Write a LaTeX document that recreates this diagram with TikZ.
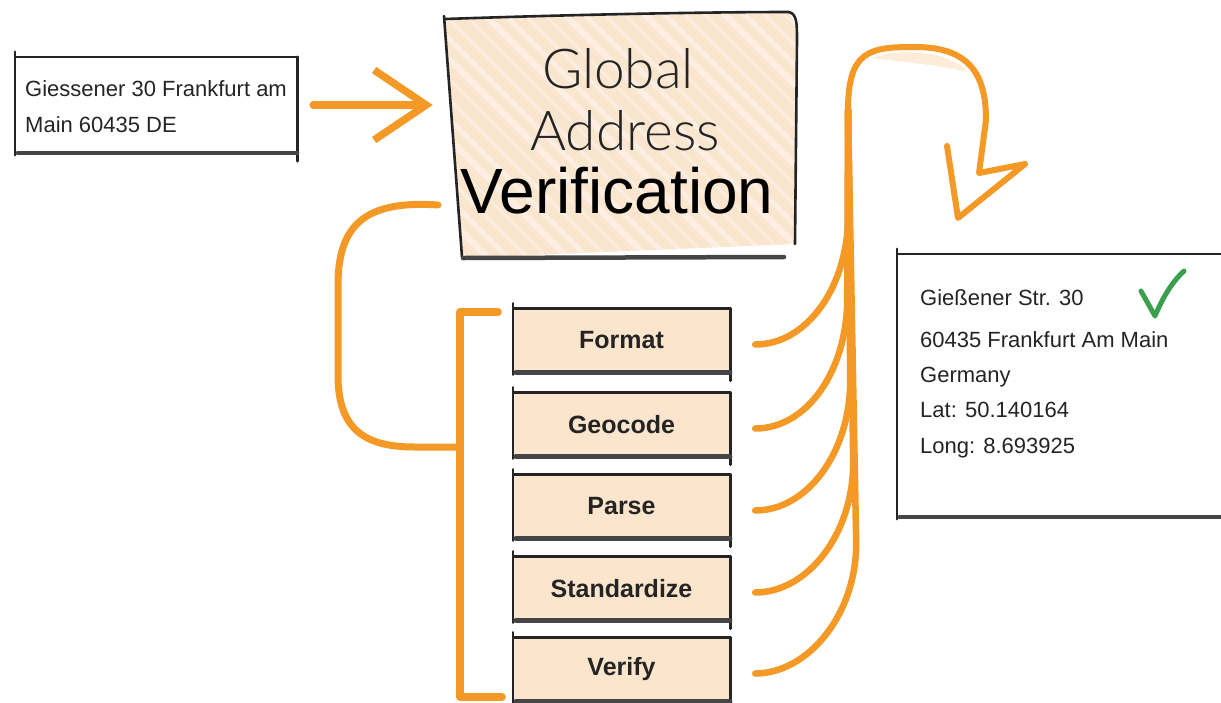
\documentclass[tikz,border=0pt]{standalone}
\usepackage{fontspec}
\setmainfont{Liberation Sans}
\newfontfamily\thinfont{Lato Light}
\usetikzlibrary{arrows.meta,calc}

\definecolor{amber}{RGB}{244,152,38}
\definecolor{peach}{RGB}{251,229,204}
\definecolor{peachlt}{RGB}{250,229,206}
\definecolor{ink}{RGB}{36,36,36}
\definecolor{tick}{RGB}{58,160,78}

\tikzset{
  flow/.style={draw=amber, line width=7pt, line cap=round, line join=round},
  edge/.style={draw=ink, line width=2.6pt, line cap=round},
  heavy/.style={draw=ink!85, line width=4.5pt, line cap=round},
  card/.style={inner sep=0pt},
  stepbox/.style={fill=peach, minimum width=217pt, minimum height=64pt, inner sep=0pt,
    text=ink, font=\fontsize{25}{30}\selectfont\bfseries},
  addr/.style={anchor=base west, inner sep=0pt, text=ink, font=\fontsize{22}{26}\selectfont},
  headline/.style={anchor=base, inner sep=0pt},
}

% hand-drawn frame around a rectangular node
\newcommand{\sketchframe}[1]{%
  \draw[edge] ([yshift=5pt]#1.north west) -- ([yshift=-2pt]#1.south west);
  \draw[edge] ([xshift=1pt]#1.north west) -- (#1.north east);
  \draw[edge] (#1.north east) -- ([yshift=-8pt]#1.south east);
  \draw[heavy] ([xshift=3pt]#1.south west) -- (#1.south east);
}

\begin{document}
\begin{tikzpicture}[x=1pt, y=-1pt]
\useasboundingbox (0,0) rectangle (1221,702);
\clip (0,0) rectangle (1221,702);

% ---------- input address ----------
\node[card, minimum width=282pt, minimum height=96pt] (inp) at (156,105) {};
\sketchframe{inp}
\node[addr] (i1) at (25,96) {Giessener 30 Frankfurt am};
\node[addr] (i2) at (25,132) {Main 60435 DE};

% ---------- central service box ----------
\node[card, minimum width=350pt, minimum height=243pt] (gav) at (620,136.5) {};
\begin{scope}
  \clip (445,19) -- (789,12) -- (797,30) -- (795,244) -- (463,258) -- cycle;
  \fill[peachlt] (430,0) rectangle (810,270);
  \foreach \x [count=\i] in {150,170,...,820}{
    \pgfmathsetmacro\w{2+1.4*mod(\i*7,4)}
    \draw[white, opacity=.42, line width=\w pt] (\x,0) -- ++(290,290);
  }
\end{scope}
\draw[edge] (445,19) .. controls (560,15) and (700,12) .. (789,12);
\draw[edge] (789,12) .. controls (797,14) and (797,24) .. (797,40) -- (795,244);
\draw[edge] (444,16) -- (462,257);
\draw[heavy] (463,258) -- (784,257);
\node[headline, text=ink, font=\thinfont\fontsize{55}{60}\selectfont] (t1) at (618,88) {Global};
\node[headline, text=ink, font=\thinfont\fontsize{55}{60}\selectfont] (t2) at (625,150) {Address};
\node[headline, text=black, font=\fontsize{64}{70}\selectfont] (t3) at (617,213) {Verification};

% ---------- processing steps ----------
\node[stepbox] (s1) at (621.5,340.5) {Format};
\node[stepbox] (s2) at (621.5,424.5) {Geocode};
\node[stepbox] (s3) at (621.5,506.5) {Parse};
\node[stepbox] (s4) at (621.5,588.5) {Standardize};
\node[stepbox] (s5) at (621.5,669.5) {Verify};
\foreach \n in {s1,s2,s3,s4,s5}{\sketchframe{\n}}

% ---------- verified output ----------
\node[card, minimum width=343pt, minimum height=263pt] (out) at (1068.5,385.5) {};
\sketchframe{out}
\node[addr] (o1) at (920,305) {Gießener Str. 30};
\node[addr] (o2) at (920,347) {60435 Frankfurt Am Main};
\node[addr] (o3) at (920,382) {Germany};
\node[addr] (o4) at (920,417) {Lat: 50.140164};
\node[addr] (o5) at (920,453) {Long: 8.693925};
\draw[tick, line width=5pt, line cap=round, line join=round]
  (1141,291) -- (1155,316) .. controls (1163,297) and (1172,282) .. (1184,271);

% ---------- input arrow ----------
\draw[flow, line width=7.5pt, -{Straight Barb[length=52pt, width=70pt]}]
  ([xshift=16pt]inp.east) -- ([xshift=-12pt]inp.east -| gav.west);

% ---------- loop from the service box into the step list ----------
\coordinate (cin) at (438,205);
\coordinate (bjoin) at (460,447);
\draw[flow] (cin) .. controls (365,200) and (338,225) .. (338,285) -- (338,375)
  .. controls (338,430) and (365,447) .. (415,447) -- (bjoin);
\coordinate (btop) at (498,312);
\coordinate (bbot) at (502,697);
\draw[flow, line width=7.5pt] (btop) -- (460,312) -- (460,697) -- (bbot);

% ---------- fan of step outputs into one strand ----------
\coordinate (trunk) at (848,110);
\foreach \n/\dx in {s1/0,s2/-1,s3/2,s4/5,s5/8}{
  \draw[flow, line width=6.5pt] ([xshift=25pt,yshift=-4pt]\n.east) coordinate (fs)
    .. controls +(52,0) and ($(fs)+(93+\dx,-58)$) .. ($(fs)+(93+\dx,-130)$)
    -- (trunk);
}
% soft shading under the top of the loop
\fill[amber, opacity=.18] (872,58) .. controls (900,48) and (948,50) .. (968,72)
  .. controls (945,66) and (905,62) .. (872,58) -- cycle;
\draw[flow, line width=6pt] (trunk) .. controls (848,50) and (870,47) .. (915,47)
  .. controls (970,47) and (986,75) .. (986,120) -- (979,173) -- (1025,164)
  -- (958,218) -- (947,146);
\end{tikzpicture}
\end{document}
